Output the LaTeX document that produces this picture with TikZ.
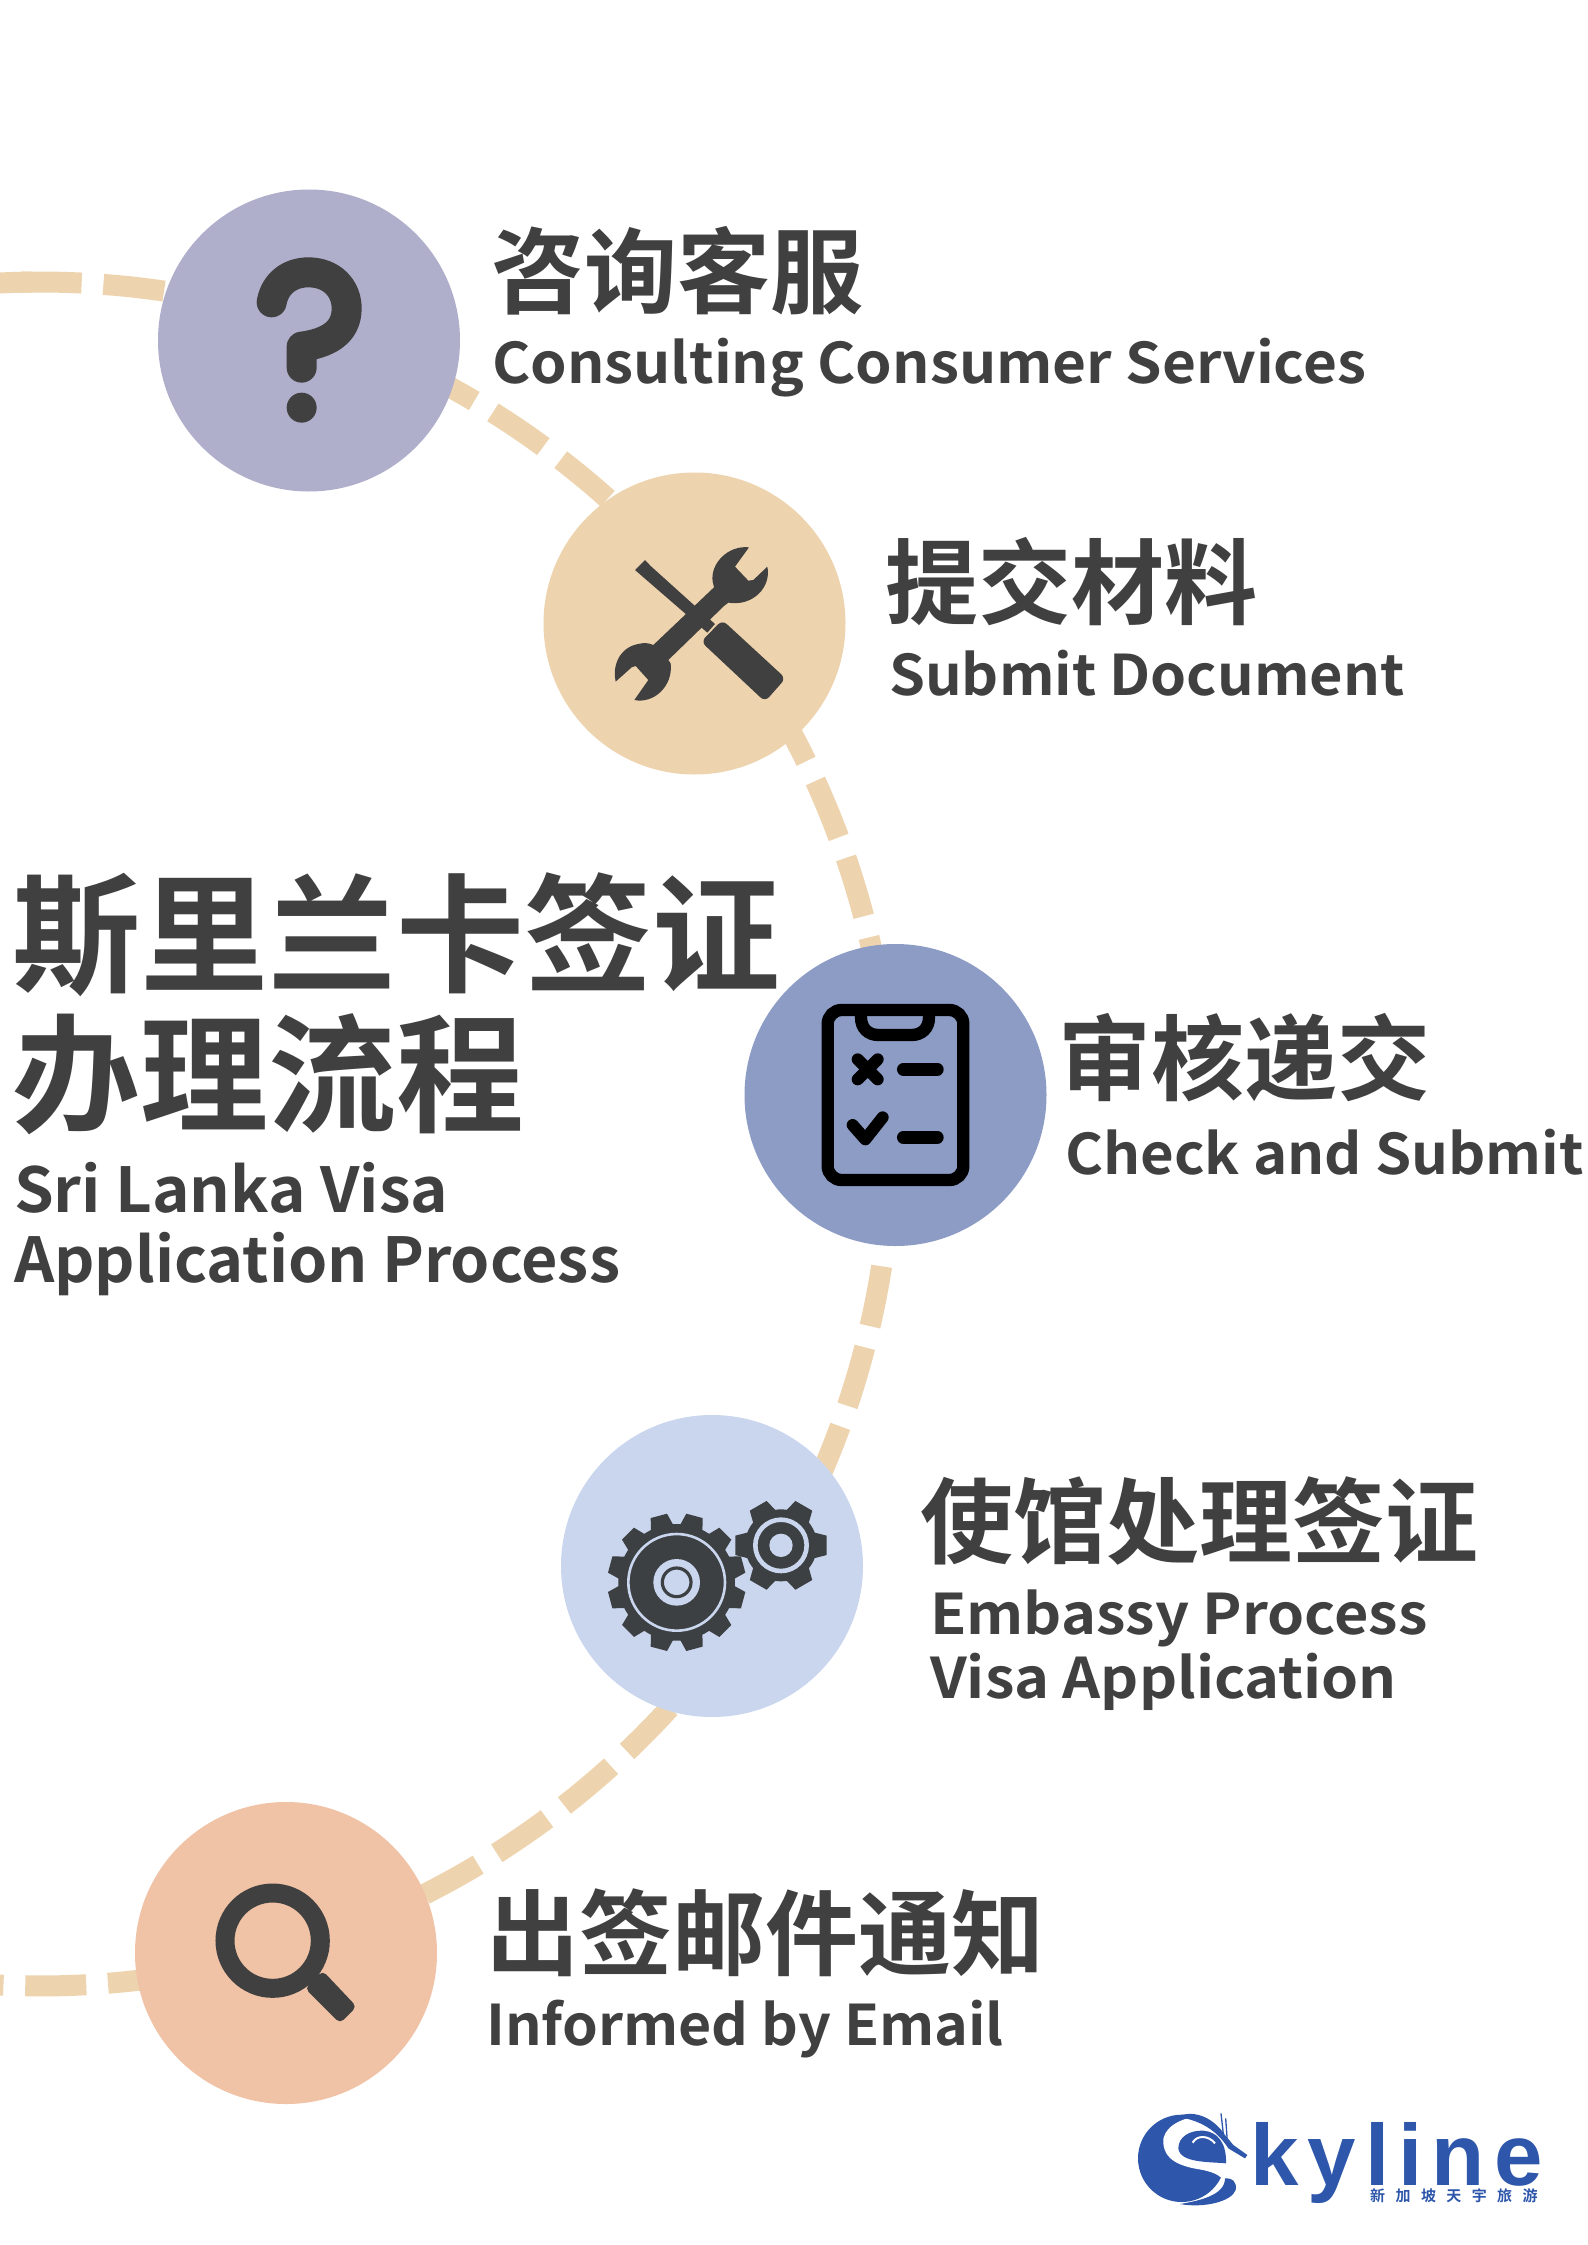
\documentclass[tikz,border=0pt]{standalone}
\usepackage{fontspec}
\newfontfamily\cjk{Noto Sans CJK SC Bold}
\newfontfamily\lat{Noto Sans CJK SC Bold}
\newfontfamily\logofont{Liberation Sans Bold}[LetterSpace=10.5]
\definecolor{ink}{HTML}{404040}
\definecolor{gearink}{HTML}{3D4043}
\definecolor{tan}{HTML}{EED4AE}
\definecolor{cA}{HTML}{B0AFCB}
\definecolor{cB}{HTML}{EED4AE}
\definecolor{cC}{HTML}{8C9CC4}
\definecolor{cD}{HTML}{C9D6EE}
\definecolor{cE}{HTML}{F0C2A6}
\definecolor{logoblue}{HTML}{2E57AB}
\newcommand{\lgap}{\hspace{10.4pt}}
\tikzset{
  disc/.style={circle,minimum size=302pt,inner sep=0pt,draw=none},
  cn/.style={anchor=base west,inner sep=0pt,text=ink,font=\cjk\fontsize{93}{93}\selectfont},
  en/.style={anchor=base west,inner sep=0pt,text=ink,font=\lat\fontsize{56}{56}\selectfont\addfontfeature{FakeStretch=#1}},
  en/.default=1.04,
  zoomed/.style={shift={#1},x=0.33333pt,y=-0.33333pt},
}
\begin{document}
\begin{tikzpicture}[x=1pt,y=-1pt]
\useasboundingbox (0,0) rectangle (1587,2245);
\fill[white] (0,0) rectangle (1587,2245);
% dashed arc
\draw[tan,line width=21pt] plot[domain=-94:-90.5,samples=20,smooth] ({40+852*cos(\x)},{1134+852*sin(\x)});
\draw[tan,line width=21pt,dash pattern=on 61pt off 21.8pt]
  plot[domain=-91.3:95.5,samples=500] ({40+852*cos(\x)},{1134+852*sin(\x)});
% discs
\node[disc,fill=cA] (c1) at (309,340.5) {};
\node[disc,fill=cB] (c2) at (694.5,623.5) {};
\node[disc,fill=cC] (c3) at (895.5,1095) {};
\node[disc,fill=cD] (c4) at (712,1566) {};
\node[disc,fill=cE] (c5) at (286,1953) {};
% question mark
\begin{scope}[zoomed={(0,170)}]
\draw[ink,line width=30pt,line cap=round,line join=round]
 (815,397) .. controls (825,340) and (870,307) .. (925,307)
 .. controls (995,307) and (1040,355) .. (1040,415)
 .. controls (1040,490) and (980,520) .. (905,530) -- (905,593);
\fill[ink] (905,713) circle[radius=45];
\end{scope}
% tools
\begin{scope}[zoomed={(520,450)}]
\fill[ink] (345,360) -- (375,330) -- (392,348) -- (585,522) -- (562,548) -- (368,380) -- cycle;
\fill[ink,rounded corners=6pt] (607,510) -- (797,685) -- (735,755) -- (543,575) -- cycle;
\fill[ink] (687,292) .. controls (625,285) and (570,340) .. (578,395) -- (582,412)
 -- (400,585) .. controls (385,578) and (370,578) .. (355,582)
 .. controls (305,590) and (275,640) .. (287,695) -- (335,652) -- (347,648) -- (385,690) -- (343,750)
 .. controls (400,762) and (460,710) .. (452,640) -- (445,630) -- (612,468) -- (625,458)
 .. controls (700,470) and (755,410) .. (742,350) -- (700,390) -- (685,392) -- (645,350) -- cycle;
\end{scope}
% clipboard
\begin{scope}[zoomed={(740,940)}]
\draw[black,line width=12.3pt,rounded corners=14pt] (263,210) rectangle (670,720);
\draw[black,line width=12.3pt] (363,210) -- (363,232) .. controls (363,265) and (385,285) .. (415,285)
  -- (515,285) .. controls (545,285) and (567,265) .. (567,232) -- (567,210);
\draw[black,line width=12pt,line cap=round] (353,358) -- (413,418) (413,358) -- (353,418);
\draw[black,line width=12.7pt,line cap=round] (490,388) -- (592,388) (490,592) -- (592,592);
\draw[black,line width=12pt,line cap=round,line join=round] (338,555) -- (376,598) -- (428,532);
\end{scope}
% gears
\begin{scope}[zoomed={(560,1420)}]
\fill[gearink] (350,487) circle[radius=175];
\foreach \a in {15,45,...,345}{
 \fill[gearink,shift={(350,487)}] (\a-12:170) -- (\a-7:208) -- (\a+7:208) -- (\a+12:170) -- cycle;
}
\draw[cD,line width=2.6pt] (350,487) circle[radius=145];
\fill[cD] (350,487) circle[radius=70];
\draw[gearink,line width=3.2pt] (350,487) circle[radius=43];
\fill[gearink] (663,376) circle[radius=108];
\foreach \a in {0,60,...,300}{
 \fill[gearink,shift={(663,376)}] (\a-24:100) -- (\a-12:140) -- (\a+12:140) -- (\a+24:100) -- cycle;
}
\draw[cD,line width=4.6pt] (663,376) circle[radius=77];
\fill[cD] (663,376) circle[radius=35];
\end{scope}
% magnifier
\begin{scope}[zoomed={(0,1800)}]
\draw[ink,line width=19pt] (818,422) circle[radius=143];
\fill[ink,rounded corners=5pt] (968,512) -- (1070,620) -- (1020,670) -- (915,565) -- cycle;
\end{scope}
% labels
\node[cn] (t1) at (491,306) {咨询客服};
\node[en=1.045] (e1) at (492,383) {Consulting Consumer Services};
\node[cn] (t2) at (885,617) {提交材料};
\node[en=1.03] (e2) at (889,695) {Submit Document};
\node[cn] (t3) at (1058,1093) {审核递交};
\node[en=1.037] (e3) at (1065,1174) {Check and Submit};
\node[cn] (t4) at (920,1556) {使馆处理签证};
\node[en=1.06] (e4) at (930,1634) {Embassy Process};
\node[en=1.06] (e5) at (930,1698) {Visa Application};
\node[cn] (t5) at (486,1968) {出签邮件通知};
\node[en=1.023] (e6) at (486,2045) {Informed by Email};
\node[cn,font=\cjk\fontsize{128}{128}\selectfont] (h1) at (12,982) {斯里兰卡签证};
\node[cn,font=\cjk\fontsize{128}{128}\selectfont] (h2) at (12,1122) {办理流程};
\node[anchor=base west,inner sep=0pt,text=ink,font=\lat\fontsize{62}{62}\selectfont\addfontfeature{FakeStretch=1.027}] (s1) at (14,1212) {Sri Lanka Visa};
\node[anchor=base west,inner sep=0pt,text=ink,font=\lat\fontsize{62}{62}\selectfont\addfontfeature{FakeStretch=1.014}] (s2) at (14,1282) {Application Process};
% logo
\begin{scope}[zoomed={(1100,2080)}]
\fill[logoblue] (245,235) circle[radius=131];
\fill[white] (300,108) .. controls (230,115) and (185,150) .. (190,190)
  .. controls (195,250) and (260,262) .. (310,270) .. controls (345,278) and (372,290) .. (370,312)
  .. controls (365,345) and (320,362) .. (270,372) -- (420,372) -- (430,280) -- (385,230) -- (385,110) -- cycle;
\fill[logoblue] (235,205) .. controls (235,170) and (270,150) .. (310,152)
  .. controls (350,155) and (380,185) .. (378,250) .. controls (330,245) and (240,250) .. (235,205) -- cycle;
\draw[white,line width=2pt] (278,188) .. controls (290,165) and (325,165) .. (345,190);
\fill[logoblue] (240,372) .. controls (300,362) and (375,345) .. (375,295)
  .. controls (395,292) and (412,305) .. (407,330) .. controls (395,365) and (310,385) .. (240,372) -- cycle;
\fill[logoblue] (230,110) .. controls (290,85) and (345,120) .. (375,165) -- (400,195) -- (442,225) -- (435,235) -- (385,205)
  .. controls (350,150) and (300,120) .. (230,110) -- cycle;
\draw[logoblue,line width=1.3pt] (363,100) -- (372,180) (377,115) -- (382,185);
\end{scope}
\node[anchor=base west,inner sep=0pt,text=logoblue,font=\logofont\fontsize{87}{87}\selectfont] (sky) at (1250,2185) {kyline};
\node[anchor=base west,inner sep=0pt,text=logoblue,font=\cjk\fontsize{15}{15}\selectfont] (sky2) at (1370,2201) {新\lgap 加\lgap 坡\lgap 天\lgap 宇\lgap 旅\lgap 游};
\end{tikzpicture}
\end{document}
